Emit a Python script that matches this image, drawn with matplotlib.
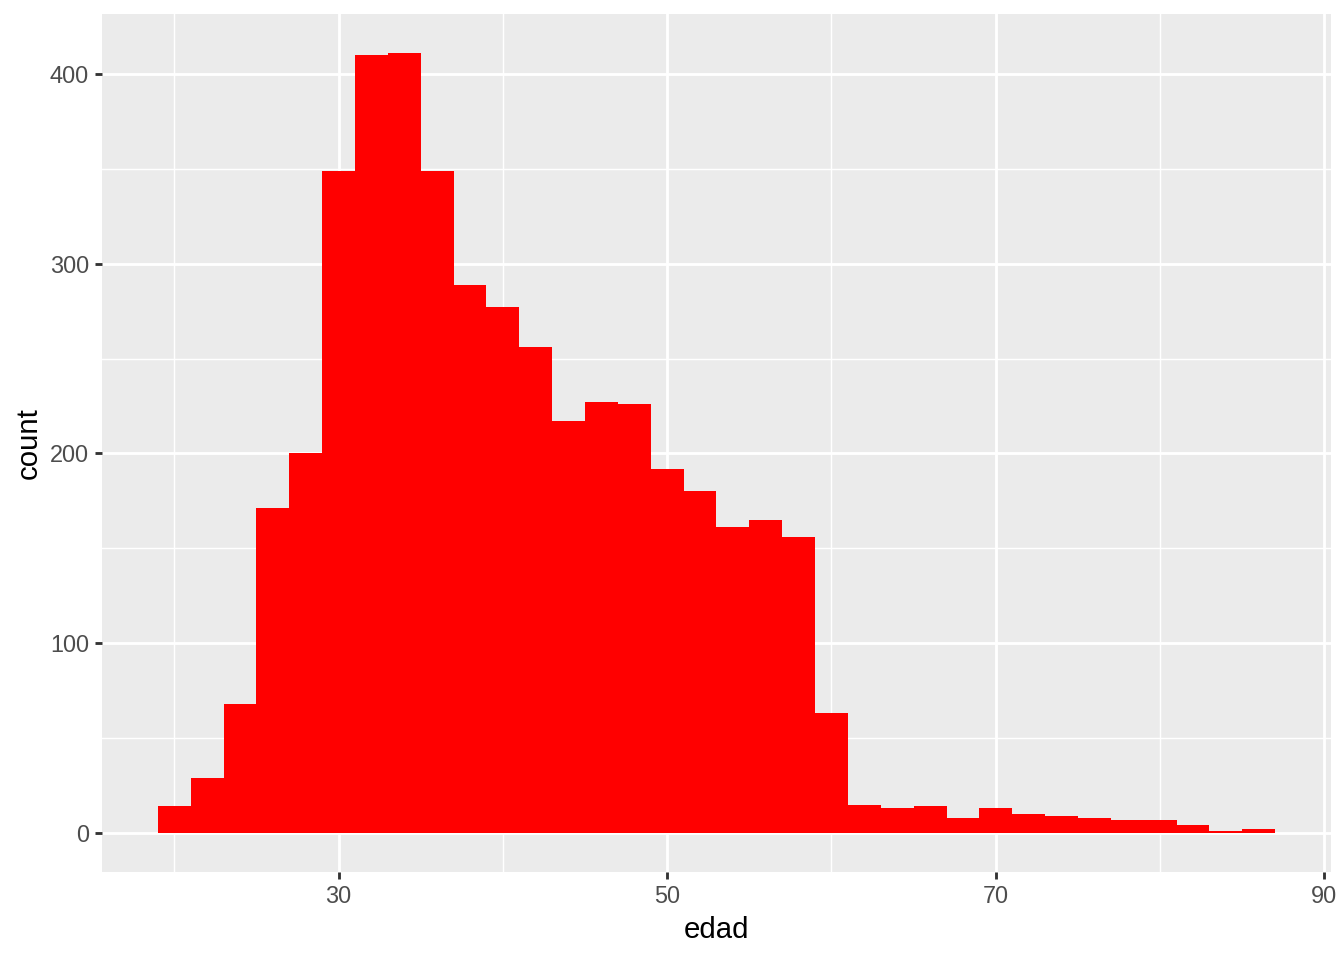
import matplotlib.pyplot as plt

# histograma de edad (binwidth = 2)
centros = [20, 22, 24, 26, 28, 30, 32, 34, 36, 38, 40, 42, 44, 46, 48, 50, 52,
           54, 56, 58, 60, 62, 64, 66, 68, 70, 72, 74, 76, 78, 80, 82, 84, 86]
conteos = [14, 29, 68, 171, 200, 349, 410, 411, 349, 289, 277, 256, 217, 227, 226, 192, 180,
           161, 165, 156, 63, 15, 13, 14, 8, 13, 10, 9, 8, 7, 7, 4, 1, 2]
ancho = 2

plt.rcParams['font.family'] = ['Liberation Sans', 'DejaVu Sans']

fig = plt.figure(figsize=(7, 5), dpi=192)
ax = fig.add_axes([0.0759, 0.0917, 0.9903 - 0.0759, 0.9854 - 0.0917])
ax.set_facecolor('#EBEBEB')

ax.bar(centros, conteos, width=ancho, color='#FF0000', linewidth=0, zorder=3)

xmin, xmax = centros[0] - ancho / 2, centros[-1] + ancho / 2
pad = (xmax - xmin) * 0.05
ax.set_xlim(xmin - pad, xmax + pad)
ymax = max(conteos)
ax.set_ylim(-ymax * 0.05, ymax * 1.05)

ax.set_xticks([30, 50, 70, 90])
ax.set_xticks([20, 40, 60, 80], minor=True)
ax.set_yticks([0, 100, 200, 300, 400])
ax.set_yticks([50, 150, 250, 350], minor=True)

ax.grid(which='major', color='white', linewidth=1.07, zorder=1)
ax.grid(which='minor', color='white', linewidth=0.53, zorder=1)
ax.set_axisbelow(True)
for s in ax.spines.values():
    s.set_visible(False)

ax.tick_params(which='major', length=2.75, width=1.07, color='#333333',
               labelsize=8.8, labelcolor='#4D4D4D', pad=2.2)
ax.tick_params(which='minor', length=0)

ax.set_xlabel('edad', fontsize=11, color='black', labelpad=2.75)
ax.set_ylabel('count', fontsize=11, color='black', labelpad=2.75)

fig.savefig('out.png', dpi=192)
